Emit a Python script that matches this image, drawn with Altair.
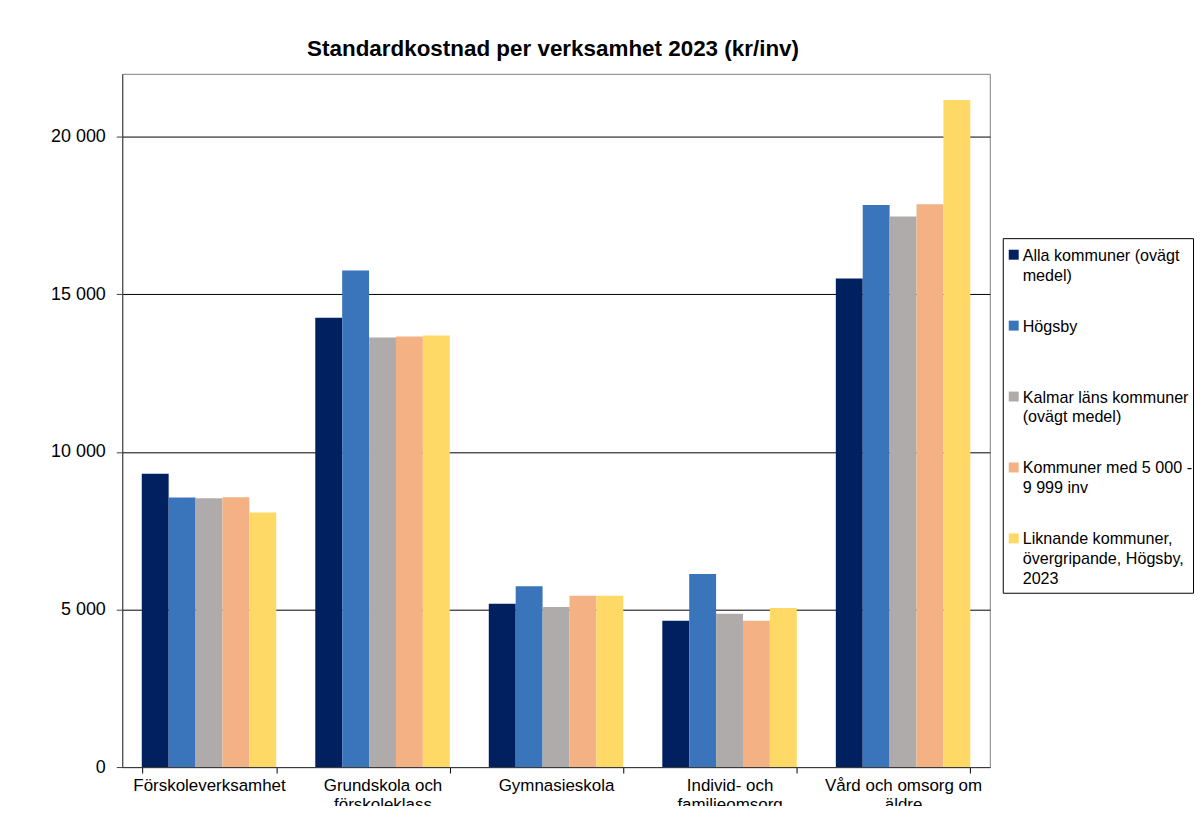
import altair as alt
import pandas as pd

# Category labels ("|" marks a line break in the axis label)
categories = [
    "Förskoleverksamhet",
    "Grundskola och|förskoleklass",
    "Gymnasieskola",
    "Individ- och|familjeomsorg",
    "Vård och omsorg om|äldre",
]

# Series names as shown in the legend ("|" marks a line break)
series = [
    "Alla kommuner (ovägt|medel)",
    "Högsby",
    "Kalmar läns kommuner|(ovägt medel)",
    "Kommuner med 5 000 -|9 999 inv",
    "Liknande kommuner,|övergripande, Högsby,|2023",
]

colors = ["#002060", "#3A75BC", "#AFABAB", "#F4B183", "#FFD966"]

alla_kommuner = [9311, 14260, 5182, 4645, 15503]
hogsby = [8553, 15757, 5740, 6130, 17841]
kalmar_lan = [8531, 13632, 5077, 4866, 17472]
kommuner_5000_9999 = [8562, 13663, 5434, 4645, 17861]
liknande_kommuner = [8079, 13695, 5434, 5045, 21169]

y_ticks = [0, 5000, 10000, 15000, 20000]

values_by_series = [alla_kommuner, hogsby, kalmar_lan, kommuner_5000_9999, liknande_kommuner]
rows = []
for s, vals in zip(series, values_by_series):
    for c, v in zip(categories, vals):
        rows.append({"kategori": c, "serie": s, "varde": v})
df = pd.DataFrame(rows)

FONT = "Liberation Sans"

bars = alt.Chart(df).mark_bar().encode(
    x=alt.X(
        "kategori:N",
        sort=categories,
        scale=alt.Scale(paddingInner=0.225, paddingOuter=0.1125),
        axis=alt.Axis(
            title=None,
            labelAngle=0,
            labelExpr="split(datum.label, '|')",
            labelFont=FONT,
            labelFontSize=17,
            labelColor="black",
            labelLineHeight=19,
            labelPadding=5,
            labelLimit=300,
            tickBand="extent",
            tickSize=6,
            tickColor="black",
            domainColor="#404040",
            grid=False,
        ),
    ),
    xOffset=alt.XOffset("serie:N", sort=series, scale=alt.Scale(paddingInner=0, paddingOuter=0)),
    y=alt.Y(
        "varde:Q",
        scale=alt.Scale(domain=[0, 22000], nice=False),
        axis=alt.Axis(
            title=None,
            values=y_ticks,
            labelExpr="replace(format(datum.value, ','), ',', ' ')",
            labelFont=FONT,
            labelFontSize=18,
            labelColor="black",
            labelPadding=11,
            tickSize=6,
            tickColor="#404040",
            domainColor="#404040",
            gridColor="black",
            gridWidth=1,
        ),
    ),
    color=alt.Color("serie:N", sort=series, scale=alt.Scale(domain=series, range=colors), legend=None),
).properties(
    width=871,
    height=696,
    title=alt.TitleParams(
        "Standardkostnad per verksamhet 2023 (kr/inv)",
        font=FONT,
        fontSize=22.5,
        fontWeight="bold",
        color="black",
        anchor="middle",
        offset=13,
        dx=-3,
    ),
    view=alt.ViewBackground(stroke="#808080", strokeWidth=1),
)

legend_df = pd.DataFrame({"serie": series})

legend_symbols = alt.Chart(legend_df).mark_square(size=100, opacity=1, yOffset=-19).encode(
    x=alt.value(11),
    y=alt.Y("serie:N", sort=series,
            scale=alt.Scale(paddingInner=0, paddingOuter=0), axis=None),
    color=alt.Color("serie:N", sort=series, scale=alt.Scale(domain=series, range=colors), legend=None),
)

legend_text = alt.Chart(legend_df).transform_calculate(
    rader="split(datum.serie, '|')"
).mark_text(
    align="left", baseline="top", dy=-26, font=FONT, fontSize=16.2, lineHeight=20, color="black"
).encode(
    x=alt.value(20),
    y=alt.Y("serie:N", sort=series,
            scale=alt.Scale(paddingInner=0, paddingOuter=0), axis=None),
    text="rader:N",
)

legend_box = alt.layer(legend_symbols, legend_text).properties(
    width=191,
    height=356,
    view=alt.ViewBackground(stroke="black", strokeWidth=1),
)

spacer = alt.Chart(pd.DataFrame({"v": [0]})).mark_point(opacity=0).encode(
    x=alt.value(0), y=alt.value(0)
).properties(width=191, height=164, view=alt.ViewBackground(strokeOpacity=0))

legend_col = alt.vconcat(spacer, legend_box, spacing=0)

chart = alt.hconcat(bars, legend_col, spacing=9).properties(
    padding={"left": 41.7, "top": 28.5, "right": 0, "bottom": -10},
    background="white",
)

chart.save("out.html", embed_options={"renderer": "svg", "actions": False})
